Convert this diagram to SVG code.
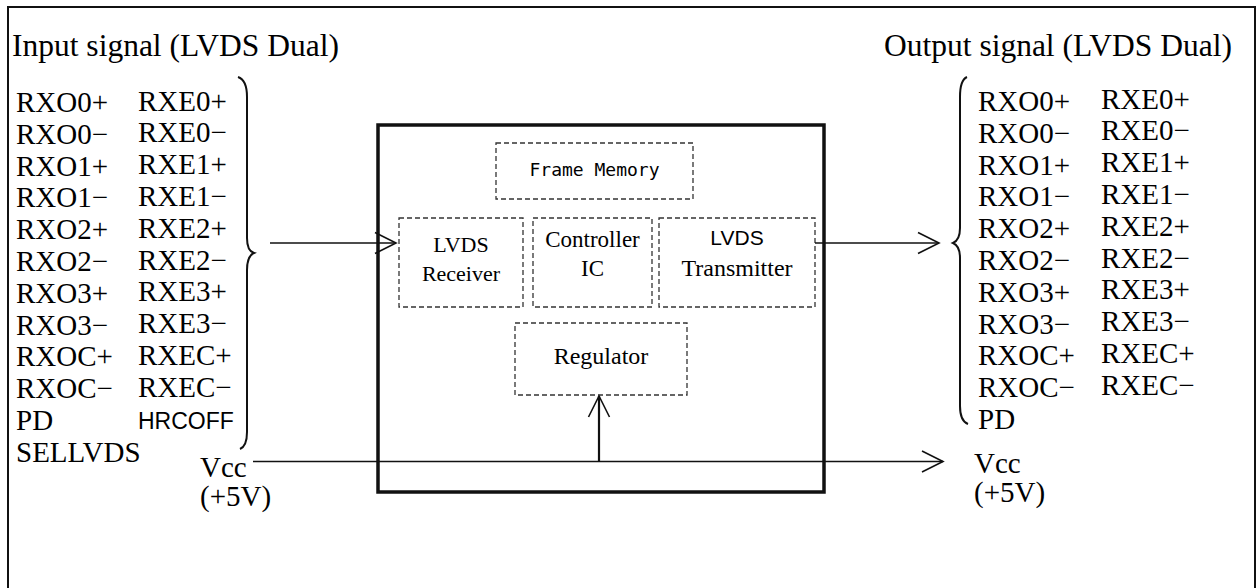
<svg xmlns="http://www.w3.org/2000/svg" width="1258" height="588" viewBox="0 0 1258 588">
<style>
.serif{font-family:"Liberation Serif","Times New Roman",serif;fill:#000}
.sans{font-family:"Liberation Sans",Arial,sans-serif;fill:#000}
.mono{font-family:"DejaVu Sans Mono","Liberation Mono",monospace;fill:#000}
.big{font-size:29px}
.title{font-size:31.5px}
.dash{fill:none;stroke:#333;stroke-width:1.3;stroke-dasharray:5 3}
.line{fill:none;stroke:#111;stroke-width:1.6}
.brace{fill:none;stroke:#111;stroke-width:2}
.mid{text-anchor:middle}
</style>
<defs>
<marker id="open" viewBox="0 0 24 24" refX="22" refY="12" markerWidth="24" markerHeight="24" markerUnits="userSpaceOnUse" orient="auto">
<path d="M1,1.5 L22,12 L1,22.5" fill="none" stroke="#111" stroke-width="1.6"/>
</marker>
</defs>
<rect width="1258" height="588" fill="#fff"/>
<rect id="frame" x="8" y="7" width="1247" height="620" fill="none" stroke="#111" stroke-width="2"/>

<g id="input-signals">
<text class="serif title" x="12" y="56">Input signal (LVDS Dual)</text>
<g class="serif big">
<text x="16" y="112">RXO0+</text>
<text x="16" y="143.8">RXO0−</text>
<text x="16" y="175.6">RXO1+</text>
<text x="16" y="207.4">RXO1−</text>
<text x="16" y="239.2">RXO2+</text>
<text x="16" y="271">RXO2−</text>
<text x="16" y="302.8">RXO3+</text>
<text x="16" y="334.6">RXO3−</text>
<text x="16" y="366.4">RXOC+</text>
<text x="16" y="398.2">RXOC−</text>
<text x="16" y="430">PD</text>
<text x="16" y="461.8">SELLVDS</text>
<text x="138" y="110.5">RXE0+</text>
<text x="138" y="142.3">RXE0−</text>
<text x="138" y="174.1">RXE1+</text>
<text x="138" y="205.9">RXE1−</text>
<text x="138" y="237.7">RXE2+</text>
<text x="138" y="269.5">RXE2−</text>
<text x="138" y="301.3">RXE3+</text>
<text x="138" y="333.1">RXE3−</text>
<text x="138" y="364.9">RXEC+</text>
<text x="138" y="396.7">RXEC−</text>
</g>
<text class="sans" x="138" y="428.5" font-size="23">HRCOFF</text>
<path class="brace" d="M238,77 Q247,80 247,97 L247,238 Q247,251 254,253 Q247,256 247,270 L247,432 Q247,446 240,449"/>
</g>

<g id="vcc-in">
<text class="serif big" x="200" y="477">Vcc</text>
<text class="serif big" x="200" y="506">(+5V)</text>
</g>

<g id="output-signals">
<text class="serif title" x="884" y="56">Output signal (LVDS Dual)</text>
<g class="serif big">
<text x="978" y="111">RXO0+</text>
<text x="978" y="142.8">RXO0−</text>
<text x="978" y="174.6">RXO1+</text>
<text x="978" y="206.4">RXO1−</text>
<text x="978" y="238.2">RXO2+</text>
<text x="978" y="270">RXO2−</text>
<text x="978" y="301.8">RXO3+</text>
<text x="978" y="333.6">RXO3−</text>
<text x="978" y="365.4">RXOC+</text>
<text x="978" y="397.2">RXOC−</text>
<text x="978" y="429">PD</text>
<text x="1101" y="108.5">RXE0+</text>
<text x="1101" y="140.3">RXE0−</text>
<text x="1101" y="172.1">RXE1+</text>
<text x="1101" y="203.9">RXE1−</text>
<text x="1101" y="235.7">RXE2+</text>
<text x="1101" y="267.5">RXE2−</text>
<text x="1101" y="299.3">RXE3+</text>
<text x="1101" y="331.1">RXE3−</text>
<text x="1101" y="362.9">RXEC+</text>
<text x="1101" y="394.7">RXEC−</text>
</g>
<path class="brace" d="M967,77 Q960,80 960,97 L960,228 Q960,240 953,243 Q960,246 960,258 L960,406 Q960,421 968,424"/>
</g>

<g id="vcc-out">
<text class="serif big" x="974" y="473">Vcc</text>
<text class="serif big" x="974" y="502">(+5V)</text>
</g>

<g id="module">
<rect x="378" y="125" width="446" height="367" fill="none" stroke="#111" stroke-width="3.5"/>
</g>

<g id="frame-memory">
<rect class="dash" x="496" y="143" width="197" height="56"/>
<text class="mono mid" x="594.5" y="176" font-size="18">Frame Memory</text>
</g>

<g id="lvds-receiver">
<rect class="dash" x="399" y="218" width="124" height="89"/>
<text class="serif mid" x="461" y="252" font-size="22">LVDS</text>
<text class="serif mid" x="461" y="281" font-size="22">Receiver</text>
</g>

<g id="controller-ic">
<rect class="dash" x="533" y="218" width="119" height="89"/>
<text class="serif mid" x="592.5" y="247" font-size="23">Controller</text>
<text class="serif mid" x="592.5" y="276" font-size="23">IC</text>
</g>

<g id="lvds-transmitter">
<rect class="dash" x="659" y="218" width="156" height="89"/>
<text class="sans mid" x="737" y="245" font-size="21">LVDS</text>
<text class="serif mid" x="737" y="276" font-size="24">Transmitter</text>
</g>

<g id="regulator">
<rect class="dash" x="515" y="323" width="172" height="72"/>
<text class="serif mid" x="601" y="364" font-size="24">Regulator</text>
</g>

<g id="connectors">
<line class="line" x1="270" y1="243" x2="396" y2="243" marker-end="url(#open)"/>
<line class="line" x1="815" y1="243" x2="939" y2="243" marker-end="url(#open)"/>
<line class="line" x1="253" y1="461.5" x2="943" y2="461.5" marker-end="url(#open)"/>
<line x1="599" y1="461.5" x2="599" y2="396" stroke="#111" stroke-width="2.2" fill="none" marker-end="url(#open)"/>
</g>
</svg>
